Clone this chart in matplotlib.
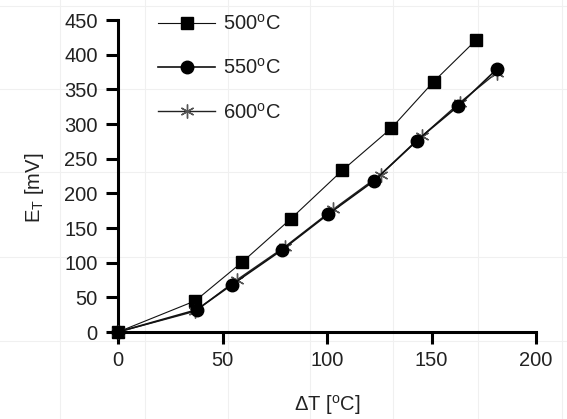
import matplotlib
matplotlib.use("Agg")
import matplotlib.pyplot as plt
from matplotlib.lines import Line2D

plt.rcParams['font.family'] = ['Liberation Sans', 'DejaVu Sans']
plt.rcParams['mathtext.fontset'] = 'custom'
plt.rcParams['mathtext.rm'] = 'Liberation Sans'
plt.rcParams['mathtext.it'] = 'Liberation Sans:italic'

# data
dT_500 = [0, 37, 59.5, 82.6, 107.3, 130.8, 151, 171.3]
E_500 = [0, 45, 101, 163, 233, 294, 361, 421]
dT_550 = [0, 37.6, 54.4, 78.3, 100.6, 122.5, 142.9, 162.8, 181.2]
E_550 = [0, 32, 68, 118, 170, 218, 276, 326, 379]
dT_600 = [0, 37, 56.8, 79.9, 103, 125.7, 145.3, 163.6, 181.2]
E_600 = [0, 30, 75, 123, 177, 227, 282, 331, 374]
labels = ['500$^{\\mathrm{o}}$C', '550$^{\\mathrm{o}}$C', '600$^{\\mathrm{o}}$C']
xticks = [0, 50, 100, 150, 200]
yticks = [0, 50, 100, 150, 200, 250, 300, 350, 400, 450]

W, H = 567, 419
fig = plt.figure(figsize=(W / 100, H / 100), dpi=100)

# faint background grid
for gx in [60, 145, 228, 310, 393, 478, 562]:
    fig.add_artist(Line2D([gx / W, gx / W], [0, 1], color='#f0f0f0', lw=0.8, zorder=-10))
for gy in [6, 89, 172, 257, 341]:
    fig.add_artist(Line2D([0, 1], [1 - gy / H, 1 - gy / H], color='#f0f0f0', lw=0.8, zorder=-10))

ax = fig.add_axes([118 / W, 1 - 332 / H, (536 - 118) / W, (332 - 20) / H])
ax.patch.set_alpha(0)

ax.plot(dT_500, E_500, color='#111111', lw=0.8, marker='s', ms=8, mfc='black', mec='black',
        label=labels[0], clip_on=False, zorder=3)
ax.plot(dT_600, E_600, color='#222222', lw=1.0, marker=(6, 2, 0), ms=10, mec='#555555', mew=1.0,
        label=labels[2], clip_on=False, zorder=3)
ax.plot(dT_550, E_550, color='#111111', lw=1.2, marker='o', ms=9, mfc='black', mec='black',
        label=labels[1], clip_on=False, zorder=4)

ax.set_xlim(0, 200)
ax.set_ylim(0, 450)
ax.set_xticks(xticks)
ax.set_yticks(yticks)
for s in ['top', 'right']:
    ax.spines[s].set_visible(False)
for s in ['left', 'bottom']:
    ax.spines[s].set_linewidth(2.2)
ax.tick_params(axis='both', direction='out', length=8.6, width=2.2, labelsize=14.5,
               labelcolor='#222222')
ax.tick_params(axis='y', pad=6)
ax.tick_params(axis='x', pad=5)

ax.set_xlabel('\u0394T [$^{\\mathrm{o}}$C]', fontsize=14.5, color='#222222')
ax.set_ylabel('E$_{\\mathrm{T}}$ [mV]', fontsize=14.5, color='#222222')
ax.xaxis.set_label_coords((327 - 118) / (536 - 118), -(405 - 332) / (332 - 20), transform=ax.transAxes)
ax.xaxis.label.set_va('center')
ax.yaxis.set_label_coords(-(118 - 35) / (536 - 118), (332 - 188) / (332 - 20))
ax.yaxis.label.set_va('center')

handles, labs = ax.get_legend_handles_labels()
handles = [handles[0], handles[2], handles[1]]
labs = [labs[0], labs[2], labs[1]]
leg = ax.legend(handles, labs, loc='upper left', bbox_to_anchor=(158 / W, 1 - 14 / H),
                bbox_transform=fig.transFigure, frameon=False, fontsize=14.5,
                handlelength=2.85, handletextpad=0.4, labelspacing=1.2,
                borderpad=0, borderaxespad=0)
for t in leg.get_texts():
    t.set_color('#222222')

fig.savefig('out.png', dpi=100)
